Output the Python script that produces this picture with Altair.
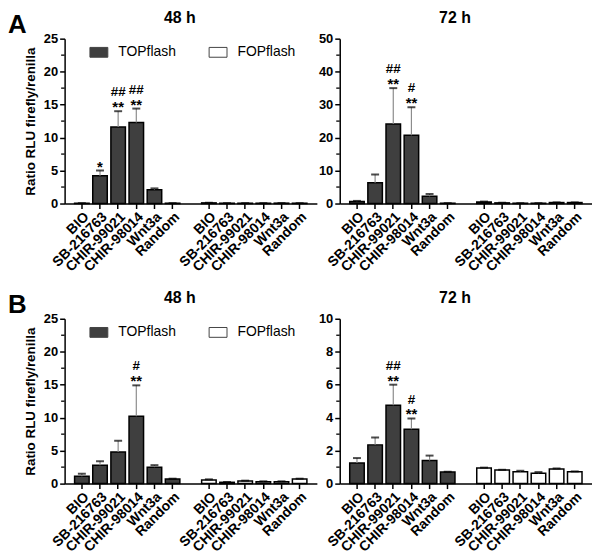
import altair as alt
import pandas as pd

FONT = "Liberation Sans"

compounds = ["BIO", "SB-216763", "CHIR-99021", "CHIR-98014", "Wnt3a", "Random"]
series_names = ["TOPflash", "FOPflash"]
panel_letters = ["A", "B"]
time_titles = ["48 h", "72 h"]
y_title = "Ratio RLU firefly/renilla"

# ---- Panel A, 48 h ----
a48_top = [0.05, 4.2, 11.6, 12.3, 2.1, 0.05]
a48_top_err = [0.06, 5.0, 14.0, 14.4, 2.3, 0.06]
a48_fop = [0.1, 0.05, 0.05, 0.05, 0.06, 0.05]
a48_fop_err = [0.12, 0.06, 0.06, 0.06, 0.07, 0.06]
a48_stars = ["", "*", "**", "**", "", ""]
a48_hash = ["", "", "##", "##", "", ""]

# ---- Panel A, 72 h ----
a72_top = [0.6, 6.3, 24.1, 20.7, 2.2, 0.1]
a72_top_err = [0.8, 8.8, 35.0, 29.2, 2.9, 0.12]
a72_fop = [0.5, 0.2, 0.1, 0.1, 0.3, 0.3]
a72_fop_err = [0.6, 0.25, 0.12, 0.12, 0.35, 0.35]
a72_stars = ["", "", "**", "**", "", ""]
a72_hash = ["", "", "##", "#", "", ""]

# ---- Panel B, 48 h ----
b48_top = [1.1, 2.8, 4.8, 10.2, 2.5, 0.7]
b48_top_err = [1.5, 3.4, 6.5, 14.9, 2.8, 0.75]
b48_fop = [0.55, 0.2, 0.4, 0.3, 0.3, 0.7]
b48_fop_err = [0.65, 0.25, 0.45, 0.35, 0.35, 0.75]
b48_stars = ["", "", "", "**", "", ""]
b48_hash = ["", "", "", "#", "", ""]

# ---- Panel B, 72 h ----
b72_top = [1.25, 2.35, 4.75, 3.3, 1.4, 0.7]
b72_top_err = [1.55, 2.8, 6.0, 3.95, 1.7, 0.72]
b72_fop = [0.95, 0.82, 0.72, 0.63, 0.88, 0.72]
b72_fop_err = [0.97, 0.84, 0.78, 0.70, 0.92, 0.74]
b72_stars = ["", "", "**", "**", "", ""]
b72_hash = ["", "", "##", "#", "", ""]

GAP = "|gap"
x_domain = [f"{c}|{series_names[0]}" for c in compounds] + [GAP] + [f"{c}|{series_names[1]}" for c in compounds]
x_values = [k for k in x_domain if k != GAP]

PW, PH = 254, 166


def panel(top, top_err, fop, fop_err, stars, hashes, ymax, major, title, letter, left):
    rows = []
    for s, vals, errs in [(series_names[0], top, top_err), (series_names[1], fop, fop_err)]:
        for i, c in enumerate(compounds):
            rows.append({"key": f"{c}|{s}", "series": s, "value": vals[i], "err": errs[i],
                         "stars": stars[i] if s == series_names[0] else "",
                         "hash": hashes[i] if s == series_names[0] else ""})
    df = pd.DataFrame(rows)
    majors = [major * k for k in range(int(round(ymax / major)) + 1)]
    minors = [m + major / 2 for m in majors[:-1]]

    yscale = alt.Scale(domain=[0, ymax], nice=False, zero=True)
    yaxis = alt.Axis(values=majors, title=y_title if left else None, titleFontSize=13.5,
                     titleFont=FONT, titleFontWeight="bold", titlePadding=6, titleColor="black",
                     labelFontSize=13, labelFont=FONT, labelFontWeight="bold", labelColor="black",
                     format="d", labelPadding=2)
    xscale = alt.Scale(domain=x_domain, paddingInner=0.2, paddingOuter=0.55)
    xaxis = alt.Axis(values=x_values, labelExpr="split(datum.label, '|')[0]", labelAngle=-45,
                     title=None, labelFontSize=14, labelFont=FONT, labelFontWeight="bold",
                     labelColor="black", labelPadding=1, labelLimit=200)
    X = alt.X("key:N", scale=xscale, axis=xaxis, sort=x_domain)

    def Y(field):
        return alt.Y(f"{field}:Q", scale=yscale, axis=yaxis)

    base = alt.Chart(df)
    if left:
        legend = alt.Legend(orient="none", legendX=25, legendY=4, direction="horizontal", title=None,
                            symbolType="M-1,-0.55H1V0.55H-1Z", symbolSize=324,
                            symbolStrokeColor="#444", symbolStrokeWidth=1,
                            labelFontSize=14, labelFont=FONT, labelFontWeight="normal",
                            labelColor="black", columnPadding=30, labelOffset=10)
    else:
        legend = None
    bars = base.mark_bar(stroke="black", strokeWidth=1.5).encode(
        x=X, y=Y("value"),
        fill=alt.Fill("series:N", scale=alt.Scale(domain=series_names, range=["#3f3f3f", "#ffffff"]),
                      legend=legend))
    err_rule = base.mark_rule(color="#8c8c8c", strokeWidth=1.2).encode(x=X, y=Y("value"), y2="err:Q")
    caps = base.mark_tick(color="black", thickness=2, size=8).encode(x=X, y=Y("err"))
    star_t = base.mark_text(fontSize=15, fontWeight="bold", font=FONT, baseline="alphabetic", dy=1,
                            color="black").encode(x=X, y=Y("err"), text="stars:N")
    hash_t = base.mark_text(fontSize=13.5, fontWeight="bold", font=FONT, baseline="alphabetic", dy=-15,
                            color="black").encode(x=X, y=Y("err"), text="hash:N")
    minor_df = pd.DataFrame({"m": minors})
    minor_t = alt.Chart(minor_df).mark_rule(color="black", strokeWidth=1.3).encode(
        y=Y("m"), x=alt.value(-3.5), x2=alt.value(0))
    title_t = alt.Chart(pd.DataFrame({"t": [title]})).mark_text(
        fontSize=16, fontWeight="bold", font=FONT, align="center", baseline="alphabetic",
        color="black").encode(x=alt.value(116), y=alt.value(-16), text="t:N")

    layers = [minor_t, bars, err_rule, caps, star_t, hash_t, title_t]
    if letter:
        lt = alt.Chart(pd.DataFrame({"t": [letter]})).mark_text(
            fontSize=26, fontWeight="bold", font=FONT, align="left", baseline="alphabetic",
            color="black").encode(x=alt.value(-57), y=alt.value(-6), text="t:N")
        layers.append(lt)
    return alt.layer(*layers).properties(width=PW, height=PH)


pa48 = panel(a48_top, a48_top_err, a48_fop, a48_fop_err, a48_stars, a48_hash, 25, 5, time_titles[0], panel_letters[0], True)
pa72 = panel(a72_top, a72_top_err, a72_fop, a72_fop_err, a72_stars, a72_hash, 50, 10, time_titles[1], None, False)
pb48 = panel(b48_top, b48_top_err, b48_fop, b48_fop_err, b48_stars, b48_hash, 25, 5, time_titles[0], panel_letters[1], True)
pb72 = panel(b72_top, b72_top_err, b72_fop, b72_fop_err, b72_stars, b72_hash, 10, 2, time_titles[1], None, False)

row_a = alt.hconcat(pa48, pa72, spacing=1).resolve_scale(fill="independent", y="independent").resolve_legend(fill="independent")
row_b = alt.hconcat(pb48, pb72, spacing=1).resolve_scale(fill="independent", y="independent").resolve_legend(fill="independent")

chart = alt.vconcat(row_a, row_b, spacing=16).resolve_scale(fill="independent", y="independent").resolve_legend(
    fill="independent").properties(padding={"left": 0, "top": 0, "right": 0, "bottom": 0}).configure_view(
    stroke=None).configure_axis(
    labelFont=FONT, labelFontWeight="bold", labelColor="black", domainColor="black", domainWidth=1.5,
    tickColor="black", tickWidth=1.5, tickSize=5, grid=False, titleColor="black").configure_title(color="black")

chart.save("out.html", embed_options={"renderer": "svg", "actions": False})
